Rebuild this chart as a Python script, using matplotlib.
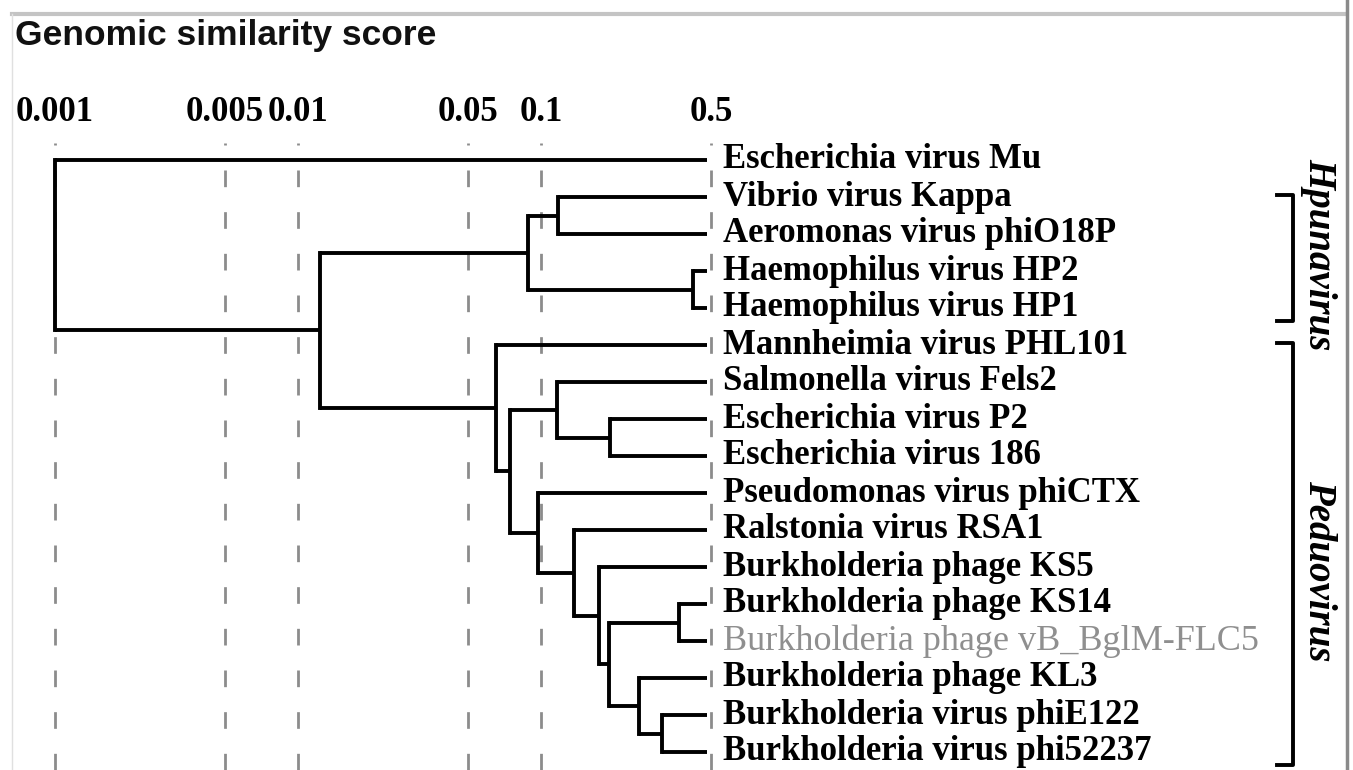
import numpy as np
import matplotlib
matplotlib.use('Agg')
import matplotlib.pyplot as plt
from matplotlib.lines import Line2D

# leaves, top to bottom
leaf_names = [
    'Escherichia virus Mu',
    'Vibrio virus Kappa',
    'Aeromonas virus phiO18P',
    'Haemophilus virus HP2',
    'Haemophilus virus HP1',
    'Mannheimia virus PHL101',
    'Salmonella virus Fels2',
    'Escherichia virus P2',
    'Escherichia virus 186',
    'Pseudomonas virus phiCTX',
    'Ralstonia virus RSA1',
    'Burkholderia phage KS5',
    'Burkholderia phage KS14',
    'Burkholderia phage vB_BglM-FLC5',
    'Burkholderia phage KL3',
    'Burkholderia virus phiE122',
    'Burkholderia virus phi52237',
]
highlight = 'Burkholderia phage vB_BglM-FLC5'
leaf_score = 0.48

# merges, linkage style: leaves are 0..16, new nodes numbered from 17
merge_left = [1, 3, 17, 7, 6, 15, 14, 12, 24, 11, 10, 9, 21, 5, 19, 0]
merge_right = [2, 4, 18, 8, 20, 16, 22, 13, 23, 25, 26, 27, 28, 29, 30, 31]
merge_score = [0.117, 0.42, 0.0885, 0.192, 0.116, 0.315, 0.253, 0.37,
               0.19, 0.173, 0.136, 0.0973, 0.0745, 0.0653, 0.0123, 0.001]

tick_values = [0.001, 0.005, 0.01, 0.05, 0.1, 0.5]
tick_labels = ['0.001', '0.005', '0.01', '0.05', '0.1', '0.5']

genus_names = ['Hpunavirus', 'Peduovirus']
genus_first = [1, 5]
genus_last = [4, 16]

# ---- layout (figure pixels) ----
W, H = 1353, 770
px_left, px_right = 55, 711        # 0.001 and 0.5
row0, row_step = 160, 37
ax_top = 143
dec = (px_right - px_left) / np.log10(0.5 / 0.001)

fig = plt.figure(figsize=(W / 100, H / 100), dpi=100)
ax = fig.add_axes([0, 0, 1, (H - ax_top) / H])
ax.set_xscale('log')
ax.set_xlim(10 ** (-3 - px_left / dec), 10 ** (-3 + (W - px_left) / dec))
ax.set_ylim((H - row0) / row_step, (ax_top - row0) / row_step)
ax.axis('off')

serif = 'Liberation Serif'

# dashed guide lines + top labels
for v, lab in zip(tick_values, tick_labels):
    ln = Line2D([v, v], [0, 1], transform=ax.get_xaxis_transform(),
                color='#8c8c8c', lw=2.0, zorder=1)
    ln.set_dashes([6, 9])
    ax.add_line(ln)
    ax.annotate(lab, (v, 1), xycoords=('data', 'axes fraction'),
                xytext=(0, 16), textcoords='offset points',
                ha='center', va='baseline', fontsize=25, fontweight='bold',
                family=serif, annotation_clip=False)

# tree geometry
n = len(leaf_names)
xs = [leaf_score] * n
ys = list(range(n))
for l, r, s in zip(merge_left, merge_right, merge_score):
    xs.append(s)
    ys.append((ys[l] + ys[r]) / 2)

lw_tree = 2.8
for l, r, s in zip(merge_left, merge_right, merge_score):
    ax.plot([s, s], [ys[l], ys[r]], color='black', lw=lw_tree, zorder=3,
            solid_capstyle='projecting')
    for c in (l, r):
        ax.plot([s, xs[c]], [ys[c], ys[c]], color='black', lw=lw_tree,
                zorder=3, solid_capstyle='butt')

for i, name in enumerate(leaf_names):
    if name == highlight:
        ax.annotate(name, (leaf_score, i), xytext=(12, 0),
                    textcoords='offset points', va='center', ha='left',
                    fontsize=26, color='#8f8f8f', family=serif)
    else:
        ax.annotate(name, (leaf_score, i), xytext=(12, 0),
                    textcoords='offset points', va='center', ha='left',
                    fontsize=25, fontweight='bold', family=serif)

# genus brackets
bt = ax.get_yaxis_transform()
bx0, bx1 = 1277 / W, 1293 / W
label_y = [2.55, 11.1]
for name, a, b, ly in zip(genus_names, genus_first, genus_last, label_y):
    y0, y1 = a - 0.05, b + 0.35
    ax.plot([bx0, bx1, bx1, bx0], [y0, y0, y1, y1], transform=bt,
            color='black', lw=2.8, zorder=3)
    ax.text(1319 / W, ly, name, transform=bt, rotation=270,
            ha='center', va='center', fontsize=28, style='italic',
            fontweight='bold', family=serif)

fig.text(15 / W, 1 - 45 / H, 'Genomic similarity score', fontsize=25.5,
         fontweight='bold', family='Liberation Sans', va='baseline',
         ha='left', color='#111111')

# screenshot frame
fig.add_artist(Line2D([12 / W, 1346 / W], [1 - 14 / H, 1 - 14 / H],
                      color='#c4c4c4', lw=3))
fig.add_artist(Line2D([12 / W, 12 / W], [0, 1 - 14 / H],
                      color='#e0e0e0', lw=1))
fig.add_artist(Line2D([1347 / W, 1347 / W], [0, 1],
                      color='#8a8a8a', lw=2.5))

fig.savefig('out.png', dpi=100)
